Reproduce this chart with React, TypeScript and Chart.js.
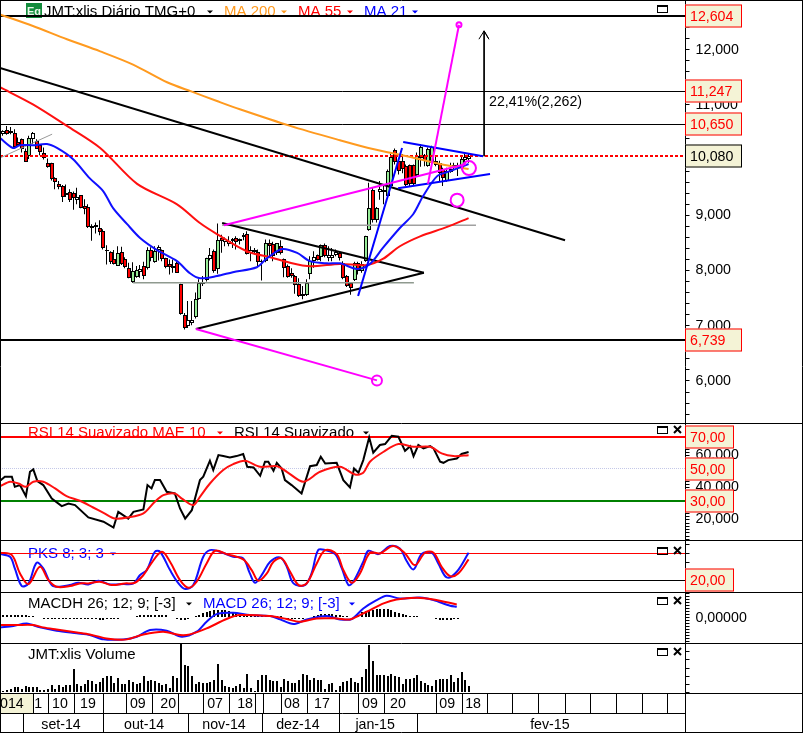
import React, { useEffect, useRef } from "react";
import { Chart, registerables } from "chart.js";

Chart.register(...registerables);

const FAMILY = '"Liberation Sans", Arial, sans-serif';
const FONT = '14.2px ' + FAMILY;

const candleOpen = [10.47,10.55,10.53,10.50,10.32,10.38,10.17,10.08,10.38,10.35,10.27,10.12,9.95,9.94,9.68,9.56,9.53,9.36,9.43,9.40,9.28,9.36,9.16,9.15,8.80,8.78,8.77,8.72,8.38,8.34,8.20,8.09,8.34,8.20,8.04,7.79,7.88,7.98,8.09,8.04,8.37,8.16,8.38,8.38,8.22,8.11,8.04,8.13,7.75,7.19,7.00,7.05,7.16,7.49,7.76,7.82,8.20,8.35,8.02,8.59,8.52,8.48,8.58,8.59,8.53,8.60,8.67,8.32,8.38,8.34,8.18,8.17,8.49,8.48,8.32,8.44,8.21,8.09,7.95,7.91,7.76,7.53,7.55,7.94,8.18,8.29,8.25,8.47,8.23,8.23,8.28,8.31,8.14,7.90,7.78,7.82,8.14,7.99,8.17,8.73,9.45,8.92,9.43,9.42,9.35,9.53,10.18,9.99,9.99,9.89,9.91,9.91,9.73,10.03,10.09,9.89,9.94,9.99,9.95,9.83,9.62,9.79,9.86,9.86,9.86,10.00,10.02];
const candleClose = [10.52,10.47,10.49,10.24,10.27,10.20,9.97,10.40,10.49,10.21,10.14,10.03,9.87,9.66,9.61,9.52,9.33,9.40,9.28,9.32,9.33,9.14,9.12,8.78,8.77,8.82,8.70,8.40,8.35,8.16,8.12,8.32,8.11,8.06,7.87,7.99,8.01,8.03,7.90,8.37,8.23,8.36,8.42,8.20,8.07,8.06,8.08,7.96,7.22,6.96,7.10,7.11,7.49,7.78,7.80,8.22,8.29,7.99,8.55,8.53,8.57,8.53,8.53,8.52,8.58,8.65,8.30,8.38,8.33,8.16,8.17,8.49,8.44,8.26,8.50,8.32,8.05,7.89,7.90,7.74,7.54,7.57,7.78,8.18,8.24,8.19,8.47,8.27,8.29,8.29,8.34,8.22,7.87,7.72,7.69,8.14,7.99,8.12,8.63,9.13,8.92,9.13,9.47,9.45,9.80,10.05,9.97,9.80,9.83,9.55,9.56,9.56,10.08,10.24,9.99,10.21,10.23,9.91,9.76,9.68,9.80,9.83,9.92,9.91,10.02,10.06,10.08];
const candleHigh = [10.54,10.62,10.60,10.56,10.41,10.39,10.21,10.44,10.51,10.38,10.29,10.23,10.03,9.95,9.69,9.62,9.55,9.56,9.47,9.43,9.50,9.37,9.29,9.20,8.84,8.87,8.91,8.75,8.46,8.35,8.37,8.44,8.43,8.24,8.14,8.15,8.08,8.10,8.16,8.42,8.42,8.44,8.46,8.38,8.23,8.20,8.20,8.16,7.76,7.23,7.45,7.45,7.60,7.84,7.90,8.23,8.41,8.38,8.85,8.65,8.60,8.62,8.59,8.62,8.58,8.68,8.71,8.44,8.41,8.38,8.20,8.56,8.56,8.52,8.50,8.55,8.22,8.11,8.04,7.92,7.86,7.72,7.84,8.26,8.35,8.29,8.47,8.49,8.44,8.41,8.38,8.35,8.17,7.92,7.78,8.16,8.16,8.17,8.63,9.59,9.50,9.15,9.62,9.56,9.83,10.11,10.21,9.99,10.11,9.92,9.92,9.92,10.14,10.29,10.11,10.23,10.26,10.08,9.99,9.86,9.86,9.95,9.95,9.95,10.08,10.12,10.11];
const candleLow = [10.44,10.46,10.47,10.21,10.24,10.14,9.97,10.02,10.29,10.20,10.09,10.01,9.86,9.63,9.47,9.47,9.24,9.33,9.24,9.10,9.20,9.13,9.02,8.77,8.54,8.67,8.64,8.38,8.11,8.12,8.11,8.08,8.10,8.04,7.86,7.78,7.87,7.87,7.84,8.02,8.17,8.14,8.18,8.17,8.04,7.93,7.96,7.96,7.20,6.93,6.96,7.01,7.13,7.47,7.72,7.80,8.18,7.96,7.94,8.32,8.44,8.44,8.41,8.38,8.47,8.55,8.29,8.17,8.29,8.06,7.82,8.15,8.26,8.17,8.28,8.29,7.88,7.87,7.87,7.58,7.52,7.48,7.54,7.84,8.05,8.18,8.17,8.24,8.17,8.17,8.26,8.18,7.84,7.70,7.56,7.81,7.93,7.96,8.16,8.72,8.87,8.87,9.28,9.20,9.33,9.53,9.92,9.74,9.76,9.53,9.53,9.53,9.71,9.88,9.89,9.88,9.89,9.89,9.62,9.53,9.61,9.77,9.81,9.71,9.83,9.92,9.95];

const ma200: [number, number][] = [[-0.8,12.64],[8.1,12.43],[17.3,12.19],[26.3,11.97],[35.2,11.73],[44.4,11.41],[51.1,11.24],[57.9,11.07],[64.1,10.92],[77.7,10.62],[91.2,10.36],[100.1,10.2],[109.3,10.07],[118.3,9.93],[126,9.84]];
const ma55: [number, number][] = [[-0.8,11.32],[8.1,11.01],[17.3,10.62],[26.3,10.22],[36.3,9.57],[47.1,9.2],[53.3,8.86],[57.9,8.66],[66,8.35],[72.3,8.24],[82.3,8.08],[91.2,8.12],[98.5,8.1],[102.8,8.21],[107.4,8.44],[112.9,8.62],[120.2,8.79],[126,8.95]];
const ma21: [number, number][] = [[-0.8,10.4],[2.7,10.22],[4.6,10.27],[8.1,10.27],[11.9,10.29],[14.6,10.22],[18.9,10.02],[23.5,9.67],[27.1,9.44],[29.8,9.13],[33.6,8.84],[37.1,8.59],[41.7,8.37],[47.1,8.17],[50.6,7.95],[53.3,7.86],[57.9,7.9],[62.2,7.97],[68.7,8.06],[71.4,8.22],[75.5,8.39],[79.6,8.32],[83.1,8.17],[87.7,8.13],[91.2,8.13],[95.8,8.03],[99.3,8.12],[102.8,8.41],[107.4,8.77],[111,9.02],[113.7,9.35],[117.5,9.71],[121,9.8],[126,9.93]];

const rsiLine: [number, number][] = [[-0.8,42.5],[0.5,45],[2.4,45],[3.2,38.7],[4.6,39.8],[6.2,32.9],[7.3,48.1],[8.2,49.6],[9.3,42.3],[10.9,39.8],[13.2,31.4],[15.9,26.7],[17.7,28.3],[19.5,27.3],[23.1,19.6],[27.2,16.9],[29.9,13.3],[31.2,23.1],[33.9,18.9],[35.3,23.1],[38,24.6],[39.1,39.8],[40.2,37.7],[41.1,42.9],[42.5,42.9],[44.3,35.6],[46.5,34.6],[47.9,25.2],[49.3,18.9],[51.1,24.1],[53.3,42.9],[54.2,45],[56,55],[56.9,49.2],[58.3,58.5],[59.6,57.9],[61.4,57.1],[63.2,57.9],[65,59.2],[66.1,51.2],[67.8,50.8],[69.6,45.6],[70.9,54.4],[71.8,54.4],[73.2,48.7],[74.1,53.7],[75.4,50.2],[76.3,42.9],[78.1,39.8],[80.8,34.6],[83.1,51.6],[84.9,52.3],[86,57.5],[87.2,53.3],[90.3,53.7],[92.1,42.9],[93.9,38.3],[95,50.2],[96.2,47.5],[97.5,55.4],[99.1,69.6],[100.2,60],[102,64.8],[103.4,65.4],[105.2,70.6],[107,70],[108.8,61.2],[110.2,64.1],[111.1,57.9],[112.4,64.8],[113.8,62.7],[115.6,64.1],[116.5,62.7],[118.3,54.4],[119.2,53.7],[120.5,55.4],[122.8,56.4],[124.1,59.2],[126,60.4]];
const rsiAverage: [number, number][] = [[-0.8,39.1],[1.9,41.9],[4.2,40.8],[6.2,38.7],[8.2,41.9],[10.9,41.9],[14.1,37.7],[17.2,32.9],[20.8,30],[24.4,25.8],[27.2,22.5],[30.3,18.9],[33.9,19.6],[38,22.1],[41.1,29.4],[43.4,33.5],[46.5,34.6],[48.4,31.4],[51.5,27.3],[53.3,32.5],[56,40.8],[59.6,49.2],[62.3,52.9],[65.5,55],[69.6,51.2],[74.1,51.6],[76.8,48.1],[81.3,41.9],[85.8,48.1],[91.2,51.2],[95.3,46.4],[97.5,47.5],[99.3,54.4],[103,60.6],[107,65.4],[111.1,63.7],[115.6,63.7],[118.7,59.6],[121.9,57.9],[126,58.5]];

const pksK: [number, number][] = [[-0.8,78.5],[1.9,72.6],[3.2,46.6],[5.1,7.4],[6.9,13.3],[9.1,59.2],[10.9,46.6],[13.2,9.6],[15.4,5.9],[18.1,9.6],[20.4,14.8],[23.1,11.1],[25.8,19.2],[29,11.1],[32.6,11.8],[35.3,13.3],[37.1,31.8],[38.9,42.9],[41.1,83.7],[42.5,83.7],[45.2,42.9],[47.5,13.3],[49.3,0.7],[51.5,9.6],[54.2,72.6],[56,87.4],[58.7,83.7],[62.3,72.6],[65,68.9],[66.8,35.5],[68.2,14.8],[70,31.8],[72.3,61.5],[75,71.1],[76.8,50.3],[78.6,13.3],[81.7,9.6],[83.5,35.5],[85.3,87.4],[87.2,87.4],[89.9,78.5],[91.7,46.6],[93.5,9.6],[94.8,17],[97.5,61.5],[98.9,85.9],[101.6,78.5],[104.7,96.3],[107.4,91.1],[109.2,63.7],[111.1,44.4],[113.3,78.5],[116,81.5],[117.8,57.7],[120.1,26.6],[122.8,39.2],[126,81.5]];
const pksD: [number, number][] = [[-0.8,81.5],[2.4,76.3],[4.6,35.5],[6.9,11.8],[10,50.3],[12.3,20.7],[14.5,5.9],[18.1,7.4],[20.8,13.3],[23.1,13.3],[26.2,17],[29.4,9.6],[33,13.3],[35.7,14.8],[38,31.8],[39.8,54],[43,83.7],[45.2,61.5],[47.9,20.7],[50.2,3.7],[52.4,17],[55.1,57.7],[57.4,85.9],[60.5,78.5],[65,66.6],[67.3,42.9],[69.1,19.2],[71.4,35.5],[73.2,61.5],[75.4,68.9],[77.7,39.2],[80,9.6],[82.2,13.3],[84.9,57.7],[87.2,87.4],[90.3,78.5],[92.1,42.9],[94.4,14.8],[96.6,35.5],[99.3,81.5],[102,80],[105.6,96.3],[108.8,80],[111.5,54],[114.2,81.5],[116.5,81.5],[118.7,50.3],[121,29.6],[123.2,35.5],[126,66.6]];

const macdLine: [number, number][] = [[-0.8,-0.172],[2.8,-0.15],[6.4,-0.106],[10,-0.172],[14.5,-0.228],[20,-0.272],[23.5,-0.3],[27.2,-0.372],[32.6,-0.372],[36.2,-0.328],[39.8,-0.217],[44.3,-0.228],[48.4,-0.328],[52.4,-0.244],[55.1,-0.078],[57.8,0.05],[62.3,0.072],[66.8,0.033],[72.3,0.017],[75,-0.039],[78.6,-0.117],[82.2,-0.039],[87.6,0.017],[91.2,-0.039],[94.4,-0.033],[97.5,0.144],[101.1,0.283],[103.8,0.355],[107.4,0.311],[112.9,0.327],[116.5,0.283],[121,0.189],[122.8,0.172]];
const macdSignal: [number, number][] = [[-0.8,-0.133],[3.7,-0.133],[8.2,-0.133],[10.9,-0.172],[14.5,-0.206],[20,-0.256],[23.5,-0.289],[28,-0.356],[33.5,-0.372],[38,-0.289],[43.4,-0.244],[47.9,-0.3],[50.6,-0.289],[55.1,-0.189],[60.5,-0.033],[64.1,0.033],[72.3,0.017],[76.8,-0.033],[80.4,-0.078],[84.9,-0.022],[90.3,-0.022],[93.9,-0.039],[98.4,0.089],[103,0.228],[106.5,0.294],[112,0.322],[116.5,0.294],[122.8,0.211]];
const macdHist = [0.03,0.03,0.03,0.04,0.03,0.03,0.03,0.02,0.02,0,0,-0.03,-0.03,-0.03,-0.03,-0.03,-0.03,-0.03,-0.03,-0.04,-0.04,-0.04,-0.04,-0.04,-0.04,-0.04,-0.05,-0.05,-0.04,-0.03,-0.03,-0.03,-0.02,-0.02,0,0,0.02,0.03,0.04,0.04,0.04,0.04,0.04,0.04,0.03,0,0,-0.04,-0.05,-0.05,-0.04,0,0.02,0.04,0.07,0.09,0.1,0.11,0.12,0.12,0.11,0.1,0.09,0.07,0.04,0.02,0.01,0.01,0.01,0.01,0.01,0.01,0.01,0.01,0.01,0.01,-0.03,-0.03,-0.03,-0.03,-0.03,-0.03,-0.01,-0.01,0.01,0.04,0.05,0.05,0.05,0.05,0.04,0.03,0.02,0.01,-0.01,0.01,0.04,0.08,0.1,0.11,0.12,0.13,0.14,0.14,0.13,0.11,0.09,0.07,0.05,0.03,0.02,0.01,0.01,0,-0.01,-0.01,-0.02,-0.04,-0.05,-0.05,-0.05,-0.05,-0.04,-0.03];

const volume = [5,8,12,18,18,13,20,19,18,18,10,8,13,25,13,23,18,24,25,73,28,22,28,40,36,28,32,44,52,50,30,46,28,28,38,32,28,30,52,35,38,36,30,24,26,15,52,45,148,85,80,52,28,32,30,30,32,38,88,40,22,18,15,20,28,15,58,15,5,40,55,55,40,37,35,18,42,35,30,30,40,58,53,40,45,38,40,13,28,30,10,22,34,36,44,32,30,48,72,144,97,53,55,53,52,57,50,48,26,42,42,45,55,35,30,25,20,40,42,42,42,55,32,45,62,40,22];

const dayLabels: [number, string][] = [[2.4,"014"],[9.5,"1"],[15.4,"10"],[23,"19"],[36.5,"09"],[44.7,"20"],[57.4,"07"],[65.5,"18"],[78.2,"08"],[86.3,"17"],[99.3,"09"],[106.9,"20"],[120.2,"09"],[127.2,"18"]];
const monthLabels: [number, string][] = [[15.7,"set-14"],[38.2,"out-14"],[59.8,"nov-14"],[79.8,"dez-14"],[100.7,"jan-15"],[148,"fev-15"]];
const daySeparators = [8.1,12.2,19.2,27.1,33.3,40.3,47.4,54.1,61.2,68.2,70.4,75.2,82.3,90.9,96.1,103.1,117.2,124.2,131,137.8,144.8,152.1,158.9,165.9,172.9,179.7];
const monthSeparators = [5.4,27.1,50.1,70.1,90.9,112];

const priceTicks = [6,7,8,9,10,11,12];
const rsiTicks = [20,40,60];
const macdTicks = [0];

const level12604 = 12.604, level11247 = 11.247, level10650 = 10.65, level10080 = 10.08, level6739 = 6.739;

const xy = (pts: [number, number][]) => pts.map(([x, y]) => ({ x, y }));

const line = (label: string, pts: [number, number][], yAxisID: string, color: string, width: number, extra: any = {}) => ({
  type: "line", label, data: xy(pts), yAxisID, borderColor: color, backgroundColor: color,
  borderWidth: width, pointRadius: 0, tension: 0, fill: false, ...extra,
});

const marker = (label: string, pts: [number, number][], r: number) => ({
  type: "line", label, data: xy(pts), yAxisID: "price", showLine: false, pointRadius: r,
  pointBorderColor: "#ff00ff", pointBackgroundColor: "transparent", pointBorderWidth: 2, borderColor: "#ff00ff",
});

const minorTicks = (from: number, to: number, step: number) => {
  const out: { value: number }[] = [];
  for (let v = from; v <= to + step / 1000; v += step) out.push({ value: Math.round(v * 1000) / 1000 });
  return out;
};

const yAxis = (top: number, bottom: number, weight: number, order: number, step: number, from: number, to: number, labels: number[], digits: number, labelOffset = 0) => ({
  type: "linear", position: "right", stack: "panels", stackWeight: weight, weight: order,
  min: bottom, max: top, border: { display: false },
  grid: { drawOnChartArea: false, drawTicks: true, tickLength: 4, tickColor: "#000", tickWidth: 1 },
  afterBuildTicks: (s: any) => { s.ticks = minorTicks(from, to, step); },
  afterFit: (s: any) => { s.width = 117.5; s.paddingTop = 0; s.paddingBottom = 0; s.paddingLeft = 0; s.paddingRight = 0; },
  ticks: {
    autoSkip: false, padding: 6, color: "#000", font: { family: FAMILY, size: 14.2 }, labelOffset,
    callback: (v: number) => labels.some((l) => Math.abs(l - v) < 1e-6) ? v.toFixed(digits).replace(".", ",") : "",
  },
});

const arrowDown = (ctx: CanvasRenderingContext2D, x: number, y: number, color: string) => {
  ctx.fillStyle = color;
  ctx.beginPath();
  ctx.moveTo(x - 3, y - 1.5);
  ctx.lineTo(x + 3, y - 1.5);
  ctx.lineTo(x, y + 1.5);
  ctx.closePath();
  ctx.fill();
};

const windowIcons = (ctx: CanvasRenderingContext2D, y: number, close: boolean) => {
  ctx.strokeStyle = "#000";
  ctx.lineWidth = 1;
  ctx.strokeRect(657.5, y + 0.5, 10, 7);
  ctx.fillStyle = "#000";
  ctx.fillRect(657, y, 11, 2);
  if (close) {
    ctx.lineWidth = 2;
    ctx.beginPath();
    ctx.moveTo(674, y); ctx.lineTo(681, y + 7);
    ctx.moveTo(681, y); ctx.lineTo(674, y + 7);
    ctx.stroke();
  }
};

const snapPlugin = {
  id: "snap",
  afterDatasetsUpdate(chart: any) {
    chart.data.datasets.forEach((ds: any, k: number) => {
      if (!ds.snap) return;
      chart.getDatasetMeta(k).data.forEach((el: any) => {
        if (ds.snap === "hline") { el.y = ds.borderWidth % 2 ? Math.floor(el.y) + 0.5 : Math.round(el.y); return; }
        if (ds.snap === "wick") el.x = Math.floor(el.x) + 0.5;
        else el.x = Math.floor(el.x) + 1;
        if (ds.snap === "body" || ds.snap === "bar") {
          el.y = Math.round(el.y);
          el.base = Math.round(el.base);
          if (ds.snap === "body" && el.base === el.y) el.base += 1;
          el.height = el.base - el.y;
        }
      });
    });
  },
};

const backPlugin = {
  id: "back",
  beforeDraw(chart: any) {
    const ctx = chart.ctx;
    ctx.save();
    ctx.fillStyle = "#fff";
    ctx.fillRect(0, 0, 803, 733);
    const x = chart.scales.x;
    ctx.fillStyle = "#f4f3d6";
    ctx.fillRect(0, 694, x.getPixelForValue(daySeparators[0]), 19);
    ctx.restore();
  },
  beforeDatasetsDraw(chart: any) {
    const ctx = chart.ctx;
    ctx.save();
    const legendFont = "15px " + FAMILY;
    ctx.font = legendFont;
    ctx.textBaseline = "alphabetic";
    const text = (s: string, x: number, y: number, c: string) => { ctx.fillStyle = c; ctx.fillText(s, x, y); };
    ctx.fillStyle = "#128c3c";
    ctx.fillRect(26, 3, 16, 15);
    ctx.font = "bold 11px " + FAMILY;
    text("Eq", 27, 15, "#e8f8e8");
    ctx.font = legendFont;
    text("JMT:xlis Diário TMG+0", 44, 16, "#000");
    arrowDown(ctx, 210, 12, "#000");
    text("MA 200", 224, 16, "#ff9a1f");
    arrowDown(ctx, 284, 12, "#ff9a1f");
    text("MA 55", 298, 16, "#ff0000");
    arrowDown(ctx, 350, 12, "#ff0000");
    text("MA 21", 364, 16, "#0000ff");
    arrowDown(ctx, 415, 12, "#0000ff");
    text("RSI 14 Suavizado MAE 10", 28, 437, "#ff0000");
    arrowDown(ctx, 220, 433, "#ff0000");
    text("RSI 14 Suavizado", 234, 437, "#000");
    arrowDown(ctx, 366, 433, "#000");
    text("PKS 8; 3; 3", 28, 558, "#0000ff");
    arrowDown(ctx, 113, 554, "#0000ff");
    text("MACDH 26; 12; 9; [-3]", 28, 608, "#000");
    arrowDown(ctx, 189, 604, "#000");
    text("MACD 26; 12; 9; [-3]", 203, 608, "#0000ff");
    arrowDown(ctx, 352, 604, "#0000ff");
    text("JMT:xlis Volume", 28, 659, "#000");
    ctx.font = FONT;
    text("22,41%(2,262)", 489, 106, "#000");
    ctx.restore();
  },
};

const framePlugin = {
  id: "frame",
  afterDraw(chart: any) {
    const ctx = chart.ctx;
    const x = chart.scales.x;
    ctx.save();
    ctx.strokeStyle = "#000";
    ctx.lineWidth = 1;
    const seg = (x1: number, y1: number, x2: number, y2: number) => {
      ctx.beginPath(); ctx.moveTo(x1, y1); ctx.lineTo(x2, y2); ctx.stroke();
    };
    [423.5, 540.5, 592.5, 643.5, 693.5, 732.5].forEach((y) => seg(0, y, 803, y));
    seg(0, 713.5, 685, 713.5);
    seg(0, 0.5, 803, 0.5);
    seg(0.5, 0, 0.5, 733);
    seg(685.5, 0, 685.5, 733);
    seg(802.5, 0, 802.5, 733);
    daySeparators.forEach((d) => { const p = Math.round(x.getPixelForValue(d)) + 0.5; seg(p, 693, p, 713); });
    monthSeparators.forEach((d) => { const p = Math.round(x.getPixelForValue(d)) + 0.5; seg(p, 713, p, 732); });

    ctx.font = FONT;
    ctx.textAlign = "center";
    ctx.textBaseline = "alphabetic";
    ctx.fillStyle = "#000";
    monthLabels.forEach(([d, s]) => ctx.fillText(s, x.getPixelForValue(d), 729));

    windowIcons(ctx, 5, false);
    windowIcons(ctx, 426, true);
    windowIcons(ctx, 547, true);
    windowIcons(ctx, 597, true);
    windowIcons(ctx, 648, true);

    const box = (scale: any, value: number, s: string, width: number, color: string) => {
      const y = Math.round(scale.getPixelForValue(value));
      ctx.fillStyle = "#f4f3d6";
      ctx.fillRect(685, y - 11.5, width, 23);
      ctx.strokeStyle = color;
      ctx.lineWidth = 1;
      ctx.strokeRect(685.5, y - 11, width - 1, 22);
      ctx.fillStyle = color;
      ctx.textAlign = "left";
      ctx.fillText(s, 690, y + 5);
    };
    const p = chart.scales.price, r = chart.scales.rsi, k = chart.scales.pks;
    box(p, level12604, "12,604", 57, "#ff0000");
    box(p, level11247, "11,247", 57, "#ff0000");
    box(p, level10650, "10,650", 57, "#ff0000");
    box(p, level10080, "10,080", 57, "#000");
    box(p, level6739, "6,739", 57, "#ff0000");
    box(r, 70, "70,00", 49, "#ff0000");
    box(r, 50, "50,00", 49, "#ff0000");
    box(r, 30, "30,00", 49, "#ff0000");
    box(k, 20, "20,00", 49, "#ff0000");
    ctx.restore();
  },
};

export default function App() {
  const ref = useRef<HTMLCanvasElement>(null);
  useEffect(() => {
    document.body.style.margin = "0";
    const idx = candleOpen.map((_, i) => i);
    const bodyColor = idx.map((i) => {
      if (candleClose[i] < candleOpen[i]) return "#ff0000";
      return candleClose[i] - candleOpen[i] < 0.12 ? "#ffffff" : "#98ec98";
    });
    const datasets: any[] = [
      marker("Target", [[123.4, 12.45]], 2.5),
      marker("Circle low", [[101.2, 6.01]], 5),
      marker("Circle A", [[126.1, 9.855]], 7),
      marker("Circle B", [[122.9, 9.275]], 6.5),
      line("Magenta A", [[59.8,8.82],[125.3,9.93]], "price", "#ff00ff", 2),
      line("Magenta B", [[52.2,6.94],[101.2,6.01]], "price", "#ff00ff", 2),
      line("Magenta C", [[123.4,12.45],[115,9.57]], "price", "#ff00ff", 2),
      line("Blue A", [[96.1,7.54],[108,10.22]], "price", "#0000ff", 2),
      line("Blue B", [[108.3,10.33],[129.9,10.07]], "price", "#0000ff", 2),
      line("Blue C", [[106.9,9.49],[131.8,9.75]], "price", "#0000ff", 2),
      line("MA 21", ma21, "price", "#1010ff", 2, { tension: 0.3 }),
      line("MA 55", ma55, "price", "#ff1010", 2, { tension: 0.3 }),
      line("MA 200", ma200, "price", "#ff9a1f", 2, { tension: 0.3 }),
      line("Arrow", [[128.8,12.19],[130.2,12.34],[131.5,12.19],[130.2,12.34],[130.2,10.07]], "price", "#000", 1),
      line("Long trend", [[-0.81,11.67],[152.1,8.55]], "price", "#000", 2),
      line("Triangle top", [[59.3,8.86],[113.9,7.96]], "price", "#000", 2),
      line("Triangle bottom", [[52.2,6.94],[113.9,7.96]], "price", "#000", 2),
      line("Grey A", [[59.3,8.82],[128,8.82]], "price", "#a0a0a0", 1.5),
      line("Grey B", [[35.2,7.78],[111.2,7.78]], "price", "#8f9a8f", 1.5),
      line("Grey C", [[-0.8,10.04],[13.3,10.47]], "price", "#999", 1),
      line("Level 10,080", [[-0.81,level10080],[184.7,level10080]], "price", "#ff0000", 2, { borderDash: [3, 2], snap: "hline" }),
      { type: "bar", label: "Candle bodies", data: idx.map((i) => ({ x: i, y: [candleOpen[i], candleClose[i]] })), yAxisID: "price", barThickness: 4, backgroundColor: bodyColor, borderColor: "#000", borderWidth: 1, borderSkipped: false, inflateAmount: 0, snap: "body", grouped: false },
      { type: "bar", label: "Candle wicks", data: idx.map((i) => ({ x: i, y: [candleLow[i], candleHigh[i]] })), yAxisID: "price", barThickness: 1, backgroundColor: "#000", borderWidth: 0, inflateAmount: 0, snap: "wick", grouped: false },
      line("Level 12,604", [[-0.81,level12604],[184.7,level12604]], "price", "#000", 2, { snap: "hline" }),
      line("Level 11,247", [[-0.81,level11247],[184.7,level11247]], "price", "#000", 1, { snap: "hline" }),
      line("Level 10,650", [[-0.81,level10650],[184.7,level10650]], "price", "#000", 1, { snap: "hline" }),
      line("Level 6,739", [[-0.81,level6739],[184.7,level6739]], "price", "#000", 2, { snap: "hline" }),

      line("RSI 14 Suavizado MAE 10", rsiAverage, "rsi", "#ff1010", 2, { tension: 0.3 }),
      line("RSI 14 Suavizado", rsiLine, "rsi", "#000", 2),
      line("RSI 70", [[-0.81,70],[184.7,70]], "rsi", "#ff0000", 2, { snap: "hline" }),
      line("RSI 30", [[-0.81,30],[184.7,30]], "rsi", "#008000", 2, { snap: "hline" }),
      line("RSI 50", [[-0.81,50],[184.7,50]], "rsi", "#c4c8e8", 1, { borderDash: [1, 1], snap: "hline" }),

      line("PKS D", pksD, "pks", "#ff0000", 2, { tension: 0.35 }),
      line("PKS K", pksK, "pks", "#1010ff", 2, { tension: 0.35 }),
      line("PKS 80", [[-0.81,80],[184.7,80]], "pks", "#ff0000", 1, { snap: "hline" }),
      line("PKS 20", [[-0.81,20],[184.7,20]], "pks", "#000", 1, { snap: "hline" }),

      line("MACD signal", macdSignal, "macd", "#ff0000", 2, { tension: 0.3 }),
      line("MACD 26; 12; 9; [-3]", macdLine, "macd", "#1010ff", 2, { tension: 0.3 }),
      { type: "bar", label: "MACDH 26; 12; 9; [-3]", data: macdHist.map((y, i) => ({ x: i, y })), yAxisID: "macd", barThickness: 2, backgroundColor: "#000", borderWidth: 0, inflateAmount: 0, snap: "bar", grouped: false },

      { type: "bar", label: "JMT:xlis Volume", data: volume.map((y, i) => ({ x: i, y })), yAxisID: "vol", barThickness: 2, backgroundColor: "#000", borderWidth: 0, inflateAmount: 0, snap: "bar", grouped: false },
    ];
    const chart = new Chart(ref.current as HTMLCanvasElement, {
      type: "bar",
      data: { datasets },
      plugins: [snapPlugin, backPlugin, framePlugin],
      options: {
        responsive: false, animation: false, devicePixelRatio: 1,
        layout: { padding: 0, autoPadding: false },
        plugins: { legend: { display: false }, title: { display: false }, tooltip: { enabled: false } },
        events: [],
        scales: {
          x: {
            type: "linear", position: "bottom", min: -0.81, max: 184.7, offset: false,
            border: { display: false }, grid: { display: false, drawTicks: false, offset: false },
            afterBuildTicks: (s: any) => { s.ticks = dayLabels.map(([value]) => ({ value })); },
            afterFit: (s: any) => { s.height = 40; s.paddingTop = 0; s.paddingBottom = 0; s.paddingLeft = 0; s.paddingRight = 0; },
            ticks: {
              autoSkip: false, maxRotation: 0, minRotation: 0, padding: 3, color: "#000",
              font: { family: FAMILY, size: 14.2 },
              callback: (v: number) => (dayLabels.find(([d]) => d === v) || [0, ""])[1],
            },
          },
          price: yAxis(12.9, 5.235, 423.5, 1, 0.2, 5.4, 12.8, priceTicks, 3),
          rsi: yAxis(78.44, 5.44, 117, 2, 2, 6, 78, rsiTicks, 3, 2),
          pks: yAxis(109.6, -6, 52, 3, 20, 0, 100, [], 0),
          macd: yAxis(0.417, -0.433, 51, 4, 0.05, -0.4, 0.4, macdTicks, 5, 1),
          vol: yAxis(150, 0, 50, 5, 25, 0, 150, [], 0),
        },
      } as any,
    } as any);
    return () => chart.destroy();
  }, []);
  return <canvas ref={ref} width={803} height={733} style={{ display: "block", position: "absolute", left: 0, top: 0 }} />;
}
